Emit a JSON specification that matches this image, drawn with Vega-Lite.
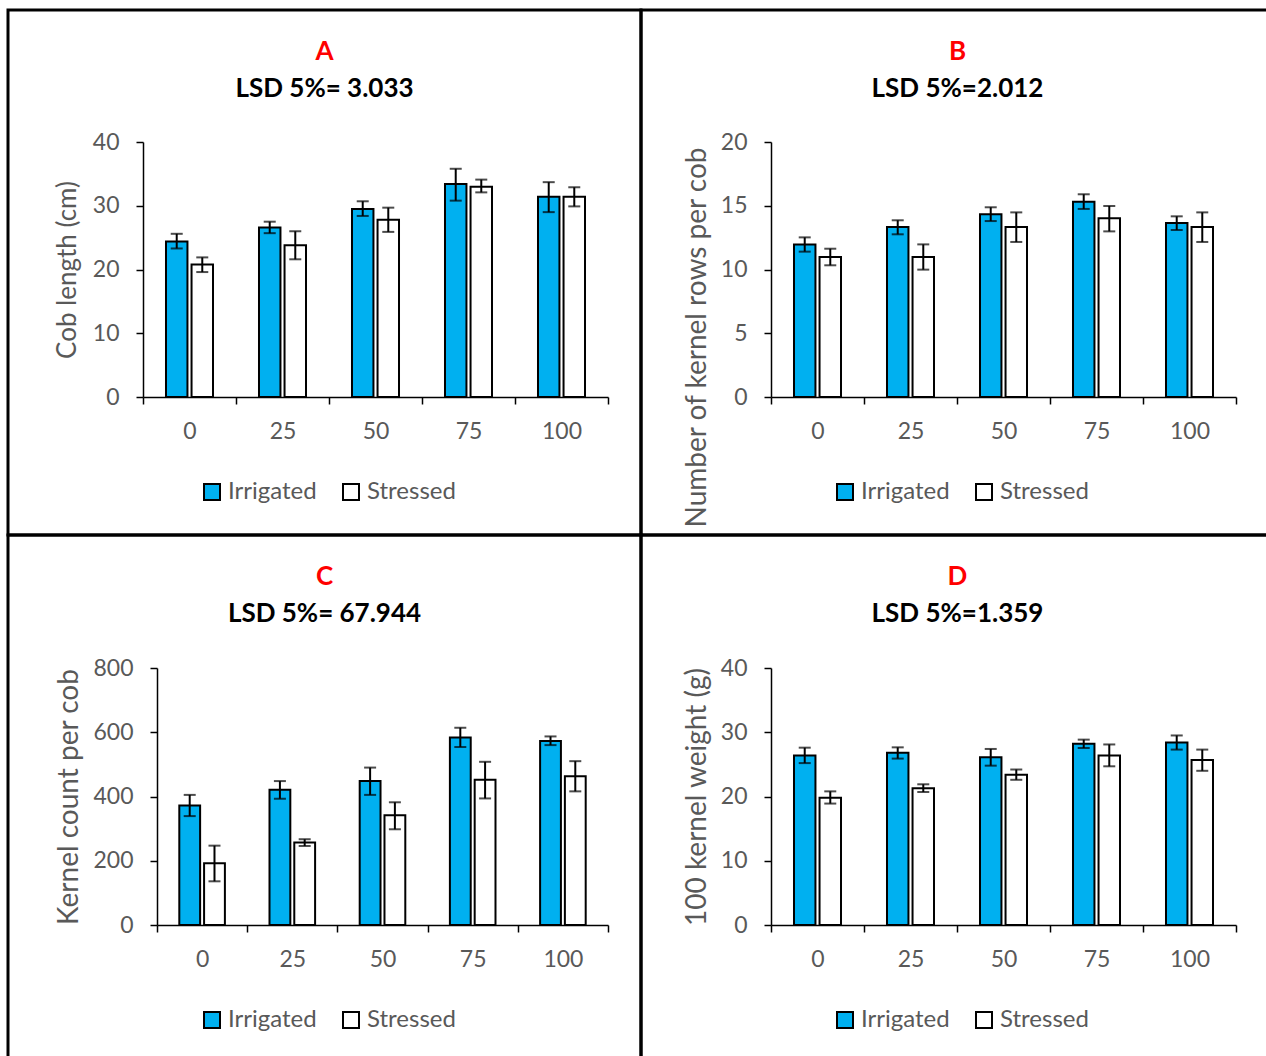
{
  "$schema": "https://vega.github.io/schema/vega-lite/v6.json",
  "padding": {"left": 6, "top": 8, "right": 0, "bottom": 0},
  "background": "white",
  "datasets": {
    "cob": [
      {"dose": "0", "trt": "Irrigated", "mean": 24.4, "lo": 23.3, "hi": 25.6},
      {"dose": "0", "trt": "Stressed", "mean": 20.8, "lo": 19.6, "hi": 21.9},
      {"dose": "25", "trt": "Irrigated", "mean": 26.6, "lo": 25.7, "hi": 27.5},
      {"dose": "25", "trt": "Stressed", "mean": 23.8, "lo": 21.6, "hi": 26.0},
      {"dose": "50", "trt": "Irrigated", "mean": 29.5, "lo": 28.4, "hi": 30.7},
      {"dose": "50", "trt": "Stressed", "mean": 27.8, "lo": 25.9, "hi": 29.7},
      {"dose": "75", "trt": "Irrigated", "mean": 33.4, "lo": 30.8, "hi": 35.8},
      {"dose": "75", "trt": "Stressed", "mean": 33.0, "lo": 32.1, "hi": 34.1},
      {"dose": "100", "trt": "Irrigated", "mean": 31.4, "lo": 29.0, "hi": 33.7},
      {"dose": "100", "trt": "Stressed", "mean": 31.4, "lo": 29.9, "hi": 32.9}
    ],
    "rows": [
      {"dose": "0", "trt": "Irrigated", "mean": 11.97, "lo": 11.4, "hi": 12.52},
      {"dose": "0", "trt": "Stressed", "mean": 10.98, "lo": 10.33, "hi": 11.63},
      {"dose": "25", "trt": "Irrigated", "mean": 13.33, "lo": 12.76, "hi": 13.86},
      {"dose": "25", "trt": "Stressed", "mean": 10.98, "lo": 9.99, "hi": 11.97},
      {"dose": "50", "trt": "Irrigated", "mean": 14.33, "lo": 13.8, "hi": 14.88},
      {"dose": "50", "trt": "Stressed", "mean": 13.33, "lo": 12.16, "hi": 14.48},
      {"dose": "75", "trt": "Irrigated", "mean": 15.32, "lo": 14.75, "hi": 15.9},
      {"dose": "75", "trt": "Stressed", "mean": 14.01, "lo": 12.99, "hi": 14.98},
      {"dose": "100", "trt": "Irrigated", "mean": 13.65, "lo": 13.1, "hi": 14.17},
      {"dose": "100", "trt": "Stressed", "mean": 13.33, "lo": 12.16, "hi": 14.48}
    ],
    "count": [
      {"dose": "0", "trt": "Irrigated", "mean": 372, "lo": 339, "hi": 405},
      {"dose": "0", "trt": "Stressed", "mean": 192, "lo": 136, "hi": 247},
      {"dose": "25", "trt": "Irrigated", "mean": 421, "lo": 393, "hi": 448},
      {"dose": "25", "trt": "Stressed", "mean": 257, "lo": 246, "hi": 267},
      {"dose": "50", "trt": "Irrigated", "mean": 448, "lo": 405, "hi": 490},
      {"dose": "50", "trt": "Stressed", "mean": 342, "lo": 298, "hi": 382},
      {"dose": "75", "trt": "Irrigated", "mean": 584, "lo": 554, "hi": 614},
      {"dose": "75", "trt": "Stressed", "mean": 452, "lo": 394, "hi": 508},
      {"dose": "100", "trt": "Irrigated", "mean": 573, "lo": 560, "hi": 587},
      {"dose": "100", "trt": "Stressed", "mean": 463, "lo": 416, "hi": 510}
    ],
    "weight": [
      {"dose": "0", "trt": "Irrigated", "mean": 26.4, "lo": 25.2, "hi": 27.6},
      {"dose": "0", "trt": "Stressed", "mean": 19.8, "lo": 18.9, "hi": 20.8},
      {"dose": "25", "trt": "Irrigated", "mean": 26.8, "lo": 25.9, "hi": 27.65},
      {"dose": "25", "trt": "Stressed", "mean": 21.3, "lo": 20.7, "hi": 21.9},
      {"dose": "50", "trt": "Irrigated", "mean": 26.1, "lo": 24.8, "hi": 27.4},
      {"dose": "50", "trt": "Stressed", "mean": 23.4, "lo": 22.6, "hi": 24.2},
      {"dose": "75", "trt": "Irrigated", "mean": 28.2, "lo": 27.55, "hi": 28.85},
      {"dose": "75", "trt": "Stressed", "mean": 26.4, "lo": 24.7, "hi": 28.1},
      {"dose": "100", "trt": "Irrigated", "mean": 28.4, "lo": 27.3, "hi": 29.5},
      {"dose": "100", "trt": "Stressed", "mean": 25.7, "lo": 24.0, "hi": 27.3}
    ]
  },
  "columns": 2,
  "spacing": 0,
  "bounds": "flush",
  "resolve": {"scale": {"fill": "independent", "x": "independent", "y": "independent", "xOffset": "independent"}, "legend": {"fill": "independent"}},
  "concat": [
    {
      "width": 633, "height": 525,
      "data": {"name": "cob"},
      "title": {"text": "A", "subtitle": "LSD 5%= 3.033"},
      "encoding": {
        "x": {"field": "dose", "type": "ordinal", "sort": ["0", "25", "50", "75", "100"],
              "scale": {"range": [135, 600], "paddingInner": 0, "paddingOuter": 0},
              "axis": {"title": null, "offset": -138, "labelAngle": 0, "tickBand": "extent", "labelPadding": 16}},
        "xOffset": {"field": "trt", "type": "nominal", "sort": ["Irrigated", "Stressed"],
                    "scale": {"paddingInner": 0.16, "paddingOuter": 0.9}}
      },
      "layer": [
        {
          "mark": {"type": "bar", "stroke": "black", "strokeWidth": 2},
          "encoding": {
            "y": {"field": "mean", "type": "quantitative",
                  "scale": {"domain": [0, 40], "range": [387, 132], "nice": false, "zero": true},
                  "axis": {"title": "Cob length (cm)", "offset": -135, "values": [0, 10, 20, 30, 40], "titleFontSize": 26}},
            "fill": {"field": "trt", "type": "nominal",
                     "scale": {"domain": ["Irrigated", "Stressed"], "range": ["#00B0F0", "#FFFFFF"]},
                     "legend": {"legendX": 192, "legendY": 470}}
          }
        },
        {
          "mark": {"type": "rule", "color": "black", "strokeWidth": 2},
          "encoding": {"y": {"field": "lo", "type": "quantitative"}, "y2": {"field": "hi"}}
        },
        {
          "mark": {"type": "tick", "color": "black", "thickness": 2, "size": 12},
          "encoding": {"y": {"field": "lo", "type": "quantitative"}}
        },
        {
          "mark": {"type": "tick", "color": "black", "thickness": 2, "size": 12},
          "encoding": {"y": {"field": "hi", "type": "quantitative"}}
        }
      ]
    },
    {
      "width": 633, "height": 525,
      "data": {"name": "rows"},
      "title": {"text": "B", "subtitle": "LSD 5%=2.012"},
      "encoding": {
        "x": {"field": "dose", "type": "ordinal", "sort": ["0", "25", "50", "75", "100"],
              "scale": {"range": [130, 595], "paddingInner": 0, "paddingOuter": 0},
              "axis": {"title": null, "offset": -138, "labelAngle": 0, "tickBand": "extent", "labelPadding": 16}},
        "xOffset": {"field": "trt", "type": "nominal", "sort": ["Irrigated", "Stressed"],
                    "scale": {"paddingInner": 0.16, "paddingOuter": 0.9}}
      },
      "layer": [
        {
          "mark": {"type": "bar", "stroke": "black", "strokeWidth": 2},
          "encoding": {
            "y": {"field": "mean", "type": "quantitative",
                  "scale": {"domain": [0, 20], "range": [387, 132], "nice": false, "zero": true},
                  "axis": {"title": "Number of kernel rows per cob", "offset": -130, "values": [0, 5, 10, 15, 20], "titleY": 327, "titleFontSize": 28, "titlePadding": 9}},
            "fill": {"field": "trt", "type": "nominal",
                     "scale": {"domain": ["Irrigated", "Stressed"], "range": ["#00B0F0", "#FFFFFF"]},
                     "legend": {"legendX": 192, "legendY": 470}}
          }
        },
        {
          "mark": {"type": "rule", "color": "black", "strokeWidth": 2},
          "encoding": {"y": {"field": "lo", "type": "quantitative"}, "y2": {"field": "hi"}}
        },
        {
          "mark": {"type": "tick", "color": "black", "thickness": 2, "size": 12},
          "encoding": {"y": {"field": "lo", "type": "quantitative"}}
        },
        {
          "mark": {"type": "tick", "color": "black", "thickness": 2, "size": 12},
          "encoding": {"y": {"field": "hi", "type": "quantitative"}}
        }
      ]
    },
    {
      "width": 633, "height": 525,
      "data": {"name": "count"},
      "title": {"text": "C", "subtitle": "LSD 5%= 67.944"},
      "encoding": {
        "x": {"field": "dose", "type": "ordinal", "sort": ["0", "25", "50", "75", "100"],
              "scale": {"range": [149, 600], "paddingInner": 0, "paddingOuter": 0},
              "axis": {"title": null, "offset": -135, "labelAngle": 0, "tickBand": "extent", "labelPadding": 16}},
        "xOffset": {"field": "trt", "type": "nominal", "sort": ["Irrigated", "Stressed"],
                    "scale": {"paddingInner": 0.16, "paddingOuter": 0.9}}
      },
      "layer": [
        {
          "mark": {"type": "bar", "stroke": "black", "strokeWidth": 2},
          "encoding": {
            "y": {"field": "mean", "type": "quantitative",
                  "scale": {"domain": [0, 800], "range": [390, 133], "nice": false, "zero": true},
                  "axis": {"title": "Kernel count per cob", "offset": -149, "values": [0, 200, 400, 600, 800], "titleFontSize": 28, "titlePadding": 9}},
            "fill": {"field": "trt", "type": "nominal",
                     "scale": {"domain": ["Irrigated", "Stressed"], "range": ["#00B0F0", "#FFFFFF"]},
                     "legend": {"legendX": 192, "legendY": 473}}
          }
        },
        {
          "mark": {"type": "rule", "color": "black", "strokeWidth": 2},
          "encoding": {"y": {"field": "lo", "type": "quantitative"}, "y2": {"field": "hi"}}
        },
        {
          "mark": {"type": "tick", "color": "black", "thickness": 2, "size": 12},
          "encoding": {"y": {"field": "lo", "type": "quantitative"}}
        },
        {
          "mark": {"type": "tick", "color": "black", "thickness": 2, "size": 12},
          "encoding": {"y": {"field": "hi", "type": "quantitative"}}
        }
      ]
    },
    {
      "width": 633, "height": 525,
      "data": {"name": "weight"},
      "title": {"text": "D", "subtitle": "LSD 5%=1.359"},
      "encoding": {
        "x": {"field": "dose", "type": "ordinal", "sort": ["0", "25", "50", "75", "100"],
              "scale": {"range": [130, 595], "paddingInner": 0, "paddingOuter": 0},
              "axis": {"title": null, "offset": -135, "labelAngle": 0, "tickBand": "extent", "labelPadding": 16}},
        "xOffset": {"field": "trt", "type": "nominal", "sort": ["Irrigated", "Stressed"],
                    "scale": {"paddingInner": 0.16, "paddingOuter": 0.9}}
      },
      "layer": [
        {
          "mark": {"type": "bar", "stroke": "black", "strokeWidth": 2},
          "encoding": {
            "y": {"field": "mean", "type": "quantitative",
                  "scale": {"domain": [0, 40], "range": [390, 133], "nice": false, "zero": true},
                  "axis": {"title": "100 kernel weight (g)", "offset": -130, "values": [0, 10, 20, 30, 40], "titleFontSize": 28, "titlePadding": 9}},
            "fill": {"field": "trt", "type": "nominal",
                     "scale": {"domain": ["Irrigated", "Stressed"], "range": ["#00B0F0", "#FFFFFF"]},
                     "legend": {"legendX": 192, "legendY": 473}}
          }
        },
        {
          "mark": {"type": "rule", "color": "black", "strokeWidth": 2},
          "encoding": {"y": {"field": "lo", "type": "quantitative"}, "y2": {"field": "hi"}}
        },
        {
          "mark": {"type": "tick", "color": "black", "thickness": 2, "size": 12},
          "encoding": {"y": {"field": "lo", "type": "quantitative"}}
        },
        {
          "mark": {"type": "tick", "color": "black", "thickness": 2, "size": 12},
          "encoding": {"y": {"field": "hi", "type": "quantitative"}}
        }
      ]
    }
  ],
  "config": {
    "font": "Lato",
    "view": {"stroke": "black", "strokeWidth": 3},
    "title": {
      "anchor": "middle", "frame": "group", "offset": -92,
      "color": "#FF0000", "fontSize": 26, "fontWeight": "bold", "font": "Lato",
      "subtitleColor": "#000000", "subtitleFontSize": 26, "subtitleFontWeight": "bold", "subtitleFont": "Lato",
      "subtitlePadding": 11
    },
    "axis": {
      "grid": false,
      "domainColor": "#000000", "domainWidth": 1.5,
      "tickColor": "#000000", "tickWidth": 1.5, "tickSize": 7,
      "labelFont": "Lato", "labelFontSize": 23, "labelColor": "#595959", "labelPadding": 17,
      "titleFont": "Lato", "titleFontSize": 25, "titleFontWeight": "normal", "titleColor": "#595959", "titlePadding": 12
    },
    "legend": {
      "orient": "none", "direction": "horizontal", "title": null,
      "symbolType": "square", "symbolSize": 256, "symbolStrokeColor": "#000000", "symbolStrokeWidth": 2,
      "labelFont": "Lato", "labelFontSize": 24, "labelColor": "#595959", "labelOffset": 4, "columnPadding": 22
    }
  }
}
